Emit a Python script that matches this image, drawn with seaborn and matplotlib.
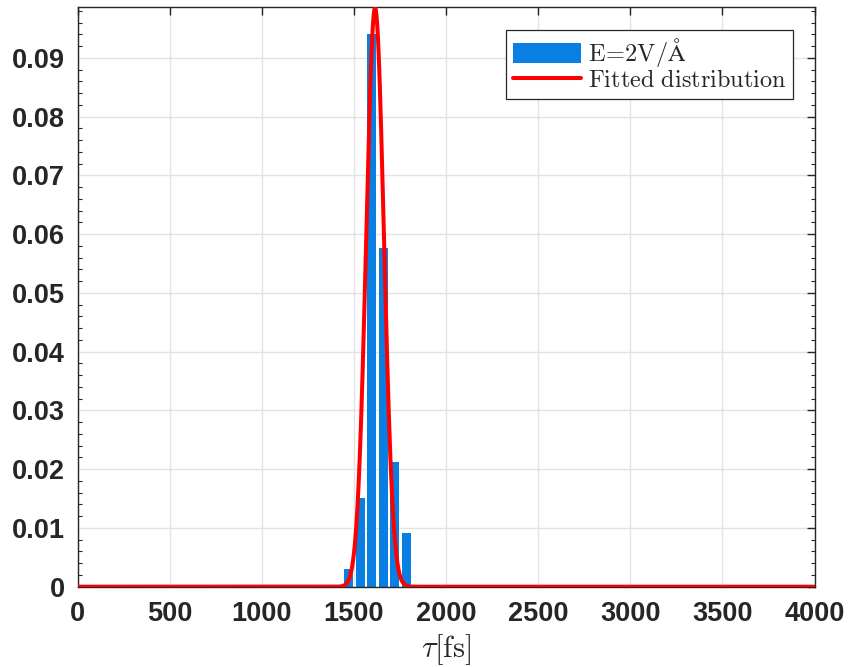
import numpy as np
import pandas as pd
import seaborn as sns
import matplotlib
matplotlib.use("Agg")
import matplotlib.pyplot as plt
from matplotlib.ticker import MultipleLocator, FuncFormatter

# ---- data ----
bin_centers = [1472, 1534.5, 1597, 1659.5, 1722, 1784.5]   # tau [fs]
bin_heights = [0.0030, 0.0151, 0.0940, 0.0576, 0.0212, 0.0091]
fit_mu = 1615.0       # fitted distribution centre [fs]
fit_sigma = 48.0      # fitted distribution width [fs]
fit_peak = 0.0985     # fitted distribution peak value
x_ticks = [0, 500, 1000, 1500, 2000, 2500, 3000, 3500, 4000]
y_ticks = [0, 0.01, 0.02, 0.03, 0.04, 0.05, 0.06, 0.07, 0.08, 0.09]
bar_label = r"$\mathrm{E\!=\!2V/\AA}$"
fit_label = r"$\mathrm{Fitted\ distribution}$"

sns.set_theme(style="white")
plt.rcParams["mathtext.fontset"] = "cm"
plt.rcParams["font.family"] = ["Liberation Sans", "DejaVu Sans"]

fig = plt.figure(figsize=(8.48, 6.67), dpi=100)
ax = fig.add_axes([0.0914, 0.1204, 0.8691, 0.8686])

bars = pd.DataFrame({"tau": bin_centers, "p": bin_heights})
sns.barplot(data=bars, x="tau", y="p", native_scale=True, width=0.8,
            color="#0A7FE3", saturation=1, ax=ax, label=bar_label,
            edgecolor="none", zorder=2)

tau = np.linspace(0, 4000, 4001)
fit = pd.DataFrame({"tau": tau,
                    "p": fit_peak * np.exp(-0.5 * ((tau - fit_mu) / fit_sigma) ** 2)})
sns.lineplot(data=fit, x="tau", y="p", color="#FF0000", lw=2.9, ax=ax,
             label=fit_label, zorder=3)

ax.set_xlim(0, 4000)
ax.set_ylim(0, 0.0986)
ax.set_xticks(x_ticks)
ax.set_yticks(y_ticks)
ax.yaxis.set_minor_locator(MultipleLocator(0.002))
ax.yaxis.set_major_formatter(FuncFormatter(lambda v, p: "0" if abs(v) < 1e-12 else f"{v:.2f}"))
ax.xaxis.set_major_formatter(FuncFormatter(lambda v, p: f"{int(round(v))}"))

ax.grid(True, which="major", color="#E3E3E3", lw=1.0, zorder=0)
ax.set_axisbelow(True)
for s in ax.spines.values():
    s.set_visible(True)
    s.set_color("#262626")
    s.set_linewidth(1.0)

ax.tick_params(axis="both", which="major", direction="in", length=6, width=1.0,
               color="#262626", top=True, right=True, labelsize=19.5,
               labelcolor="#262626")
ax.tick_params(axis="y", which="minor", direction="in", length=3, width=0.8,
               color="#262626", left=True, right=True)
ax.tick_params(axis="x", which="major", pad=10)
ax.tick_params(axis="y", which="major", pad=9)
for lab in ax.get_xticklabels() + ax.get_yticklabels():
    lab.set_fontweight("bold")

ax.set_xlabel(r"$\tau[\mathrm{fs}]$", fontsize=22, labelpad=4)
ax.set_ylabel("")

handles, labels = ax.get_legend_handles_labels()
order = [labels.index(bar_label), labels.index(fit_label)]
leg = ax.legend([handles[i] for i in order], [labels[i] for i in order],
                loc="upper right", bbox_to_anchor=(0.9708, 0.9608),
                borderaxespad=0, fancybox=False, framealpha=1,
                edgecolor="#262626", handlelength=2.8,
                handleheight=0.95, borderpad=0.26, labelspacing=-0.03,
                handletextpad=0.3,
                prop={"family": "serif", "size": 17.5})
leg.get_frame().set_linewidth(0.9)

fig.savefig("out.png", dpi=100)
